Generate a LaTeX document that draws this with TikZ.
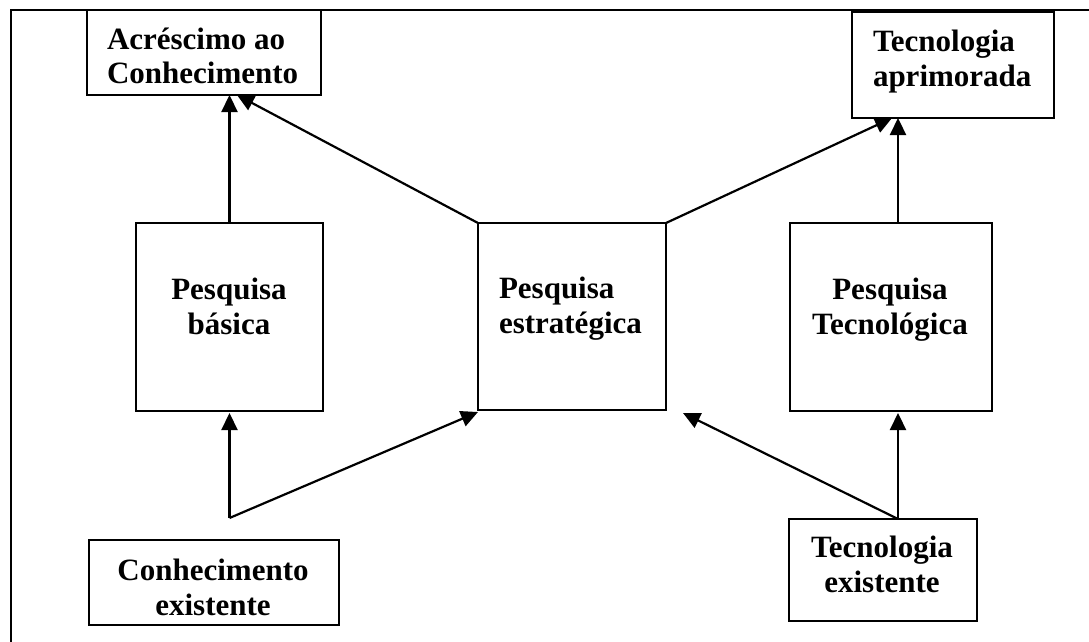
\documentclass[tikz,border=0pt]{standalone}
\usepackage{fontspec}
\setmainfont{Liberation Serif}
\usetikzlibrary{arrows.meta,calc}
\newcommand{\twoc}[2]{\begin{tabular}[t]{@{}c@{}}#1\\#2\end{tabular}}
\newcommand{\twol}[2]{\begin{tabular}[t]{@{}l@{}}#1\\#2\end{tabular}}
\begin{document}
\begin{tikzpicture}[x=1pt,y=-1pt,
  box/.style={draw, line width=2.2pt, inner sep=0pt, outer sep=0pt},
  txt/.style={inner sep=0pt, outer sep=0pt, font=\fontsize{31}{35}\selectfont\bfseries},
  arr/.style={line width=2.2pt, -{Triangle[length=17pt,width=16pt]}}]
\useasboundingbox (0,0) rectangle (1089,642);
% frame
\draw[line width=2.2pt] (11,642) -- (11,10) -- (1089,10);
% boxes
\node[box, minimum width=234pt, minimum height=85pt] (acr) at (204,52.5) {};
\node[box, minimum width=202pt, minimum height=106pt] (apr) at (953,65) {};
\node[box, minimum width=187pt, minimum height=188pt] (bas) at (229.5,317) {};
\node[box, minimum width=188pt, minimum height=187pt] (est) at (572,316.5) {};
\node[box, minimum width=202pt, minimum height=188pt] (tec) at (891,317) {};
\node[box, minimum width=250pt, minimum height=85pt] (con) at (214,582.5) {};
\node[box, minimum width=188pt, minimum height=102pt] (tex) at (883,570) {};
% texts
\node[txt, anchor=base west] (acrT) at (107,49) {\twol{Acréscimo ao}{Conhecimento}};
\node[txt, anchor=base west] (aprT) at (873,52) {\twol{Tecnologia}{aprimorada}};
\node[txt, anchor=base] (basT) at (229,299) {\twoc{Pesquisa}{básica}};
\node[txt, anchor=base west] (estT) at (499,298) {\twol{Pesquisa}{estratégica}};
\node[txt, anchor=base] (tecT) at (890,299) {\twoc{Pesquisa}{Tecnológica}};
\node[txt, anchor=base] (conT) at (213,580) {\twoc{Conhecimento}{existente}};
\node[txt, anchor=base] (texT) at (882,557) {\twoc{Tecnologia}{existente}};
% connection points
\coordinate (j1) at (229.5,518);
\coordinate (j2) at ([xshift=15pt]tex.north);
% arrows
\draw[arr] (bas.north) -- (bas.north |- acr.south);
\draw[arr] (est.north west) -- ([xshift=33pt]acr.south);
\draw[arr] (est.north east) -- ([xshift=-61pt]apr.south);
\draw[arr] ([xshift=7pt]tec.north) -- ([xshift=7pt]tec.north |- apr.south);
\draw[arr] (j1) -- ([yshift=-2pt]bas.south);
\draw[arr] (j1) -- ([yshift=-2pt]est.south west);
\draw[arr] (j2) -- ([yshift=-2pt]j2 |- tec.south);
\draw[arr] (j2) -- ([xshift=17pt,yshift=-3pt]est.south east);
\end{tikzpicture}
\end{document}
